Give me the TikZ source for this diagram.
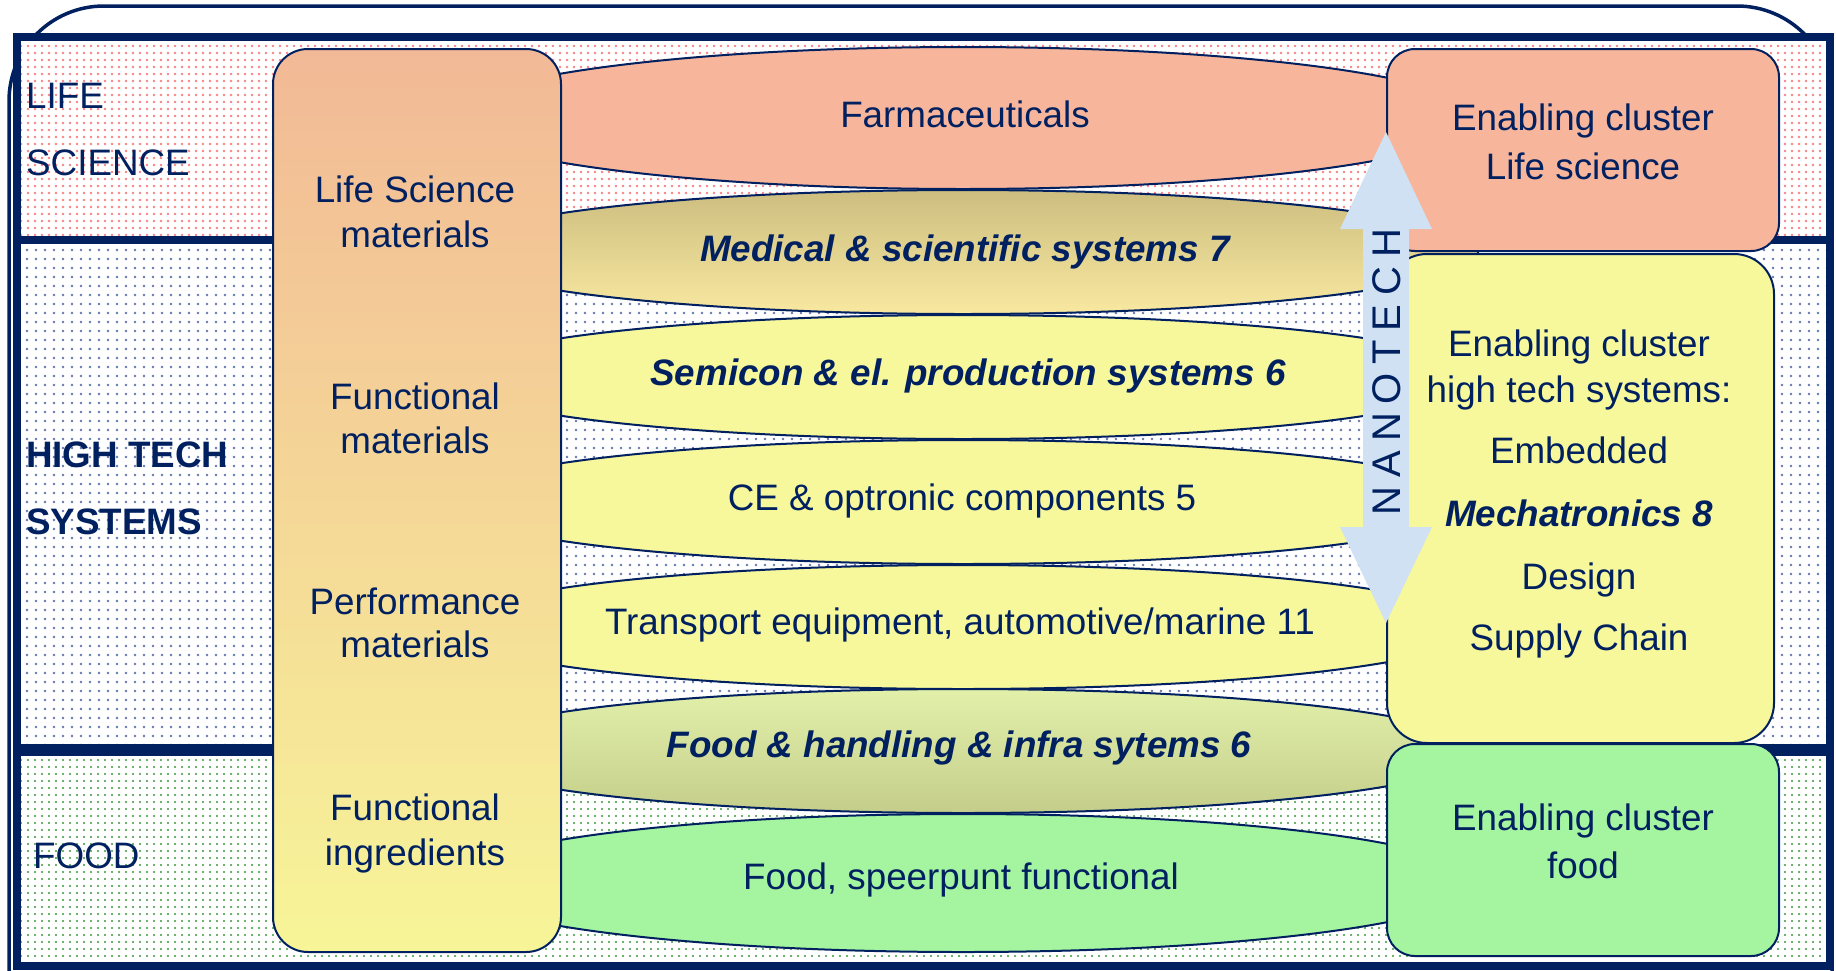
\documentclass[tikz,border=0pt]{standalone}
\usepackage{fontspec}
\setmainfont{Liberation Sans}
\usetikzlibrary{shapes.geometric,patterns.meta}
\definecolor{navy}{RGB}{0,32,96}
\definecolor{salmonf}{RGB}{247,181,155}
\definecolor{yellowf}{RGB}{247,247,155}
\definecolor{greenf}{RGB}{165,245,160}
\definecolor{matTop}{RGB}{242,185,150}
\definecolor{matBot}{RGB}{247,245,152}
\definecolor{medTop}{RGB}{205,190,128}
\definecolor{medBot}{RGB}{248,232,160}
\definecolor{fhTop}{RGB}{226,240,170}
\definecolor{fhBot}{RGB}{196,206,138}
\definecolor{arrowblue}{RGB}{208,225,243}
\definecolor{lsdot}{RGB}{248,130,130}
\definecolor{htdot}{RGB}{100,120,175}
\definecolor{fdot}{RGB}{60,150,60}
\begin{document}
\begin{tikzpicture}[x=1pt,y=-1pt,
  lbl/.style={inner sep=0pt,text height=26.5pt,text depth=0pt,text=navy,font=\fontsize{36.8}{44}\selectfont},
  bilbl/.style={lbl,font=\fontsize{36.8}{44}\selectfont\bfseries\itshape},
  blbl/.style={lbl,font=\fontsize{36.8}{44}\selectfont\bfseries},
  band/.style={ellipse,draw=navy,line width=2pt,minimum width=1030pt,minimum height=124pt,inner sep=0pt},
  box/.style={draw=navy,line width=2pt,rounded corners=28pt,inner sep=0pt,anchor=north west}]
\useasboundingbox (0,0) rectangle (1836,970);
\clip (0,0) rectangle (1836,970);
% outer rounded frame
\draw[navy,line width=3.5pt,rounded corners=95pt] (9,6) rectangle (1832,1100);
% regions
\fill[white] (17,37) rectangle (1830,966);
\fill[pattern={Dots[distance=7pt,radius=1.3pt]},pattern color=lsdot] (17,37) rectangle (1830,240);
\fill[pattern={Dots[distance=9pt,radius=1.3pt]},pattern color=htdot] (17,240) rectangle (1830,750);
\fill[pattern={Dots[distance=7pt,radius=1.2pt]},pattern color=fdot] (17,750) rectangle (1830,966);
\draw[navy,line width=8pt] (17,37) rectangle (1830,966);
\draw[navy,line width=8pt] (17,240) -- (1830,240);
\draw[navy,line width=12pt] (17,750) -- (1830,750);
% ellipses
\node[band,fill=salmonf,minimum height=142pt] (farm) at (963,118) {};
\node[band,top color=medTop,bottom color=medBot] (med) at (963,252) {};
\node[band,fill=yellowf] (semi) at (963,377) {};
\node[band,fill=yellowf] (ce) at (963,502) {};
\node[band,fill=yellowf] (trans) at (963,627) {};
\node[band,top color=fhTop,bottom color=fhBot] (fh) at (963,751) {};
\node[band,fill=greenf,minimum height=138pt] (food) at (963,883) {};
% left materials box
\node[box,rounded corners=35pt,top color=matTop,bottom color=matBot,minimum width=288pt,minimum height=903pt] (mat) at (272,48) {};
% right boxes
\node[box,fill=salmonf,minimum width=392pt,minimum height=202pt] (lsbox) at (1386,48) {};
\node[box,rounded corners=40pt,fill=yellowf,minimum width=387pt,minimum height=489pt] (htbox) at (1386,253) {};
\node[box,fill=greenf,minimum width=392pt,minimum height=212pt] (fbox) at (1386,743) {};
% nanotech arrow
\fill[arrowblue] (1386,132) -- (1432,229) -- (1409,229) -- (1409,527) -- (1432,527) -- (1386,623) -- (1340,527) -- (1363,527) -- (1363,229) -- (1340,229) -- cycle;
\node[inner sep=0pt,text height=28.6pt,text depth=0pt,text=navy,rotate=90,font=\fontsize{40}{48}\selectfont\addfontfeature{LetterSpace=22}] (nano) at (1386,372) {NANOTECH};
% region labels
\node[lbl,anchor=west] (l1) at (26,95) {LIFE};
\node[lbl,anchor=west] (l2) at (26,162) {SCIENCE};
\node[blbl,anchor=west] (h1) at (26,454) {HIGH TECH};
\node[blbl,anchor=west] (h2) at (26,521) {SYSTEMS};
\node[lbl,anchor=west] (f1) at (33,855) {FOOD};
% materials texts
\node[lbl] (m1) at (415,189) {Life Science};
\node[lbl] (m2) at (415,234) {materials};
\node[lbl] (m3) at (415,396) {Functional};
\node[lbl] (m4) at (415,440) {materials};
\node[lbl] (m5) at (415,601) {Performance};
\node[lbl] (m6) at (415,644) {materials};
\node[lbl] (m7) at (415,807) {Functional};
\node[lbl] (m8) at (415,852) {ingredients};
% ellipse texts
\node[lbl] (t1) at (965,114) {Farmaceuticals};
\node[bilbl] (t2) at (965,248) {Medical \& scientific systems 7};
\node[bilbl] (t3) at (968,372) {Semicon \& el. production systems 6};
\node[lbl] (t4) at (962,497) {CE \& optronic components 5};
\node[lbl] (t5) at (960,621) {Transport equipment, automotive/marine 11};
\node[bilbl] (t6) at (959,744) {Food \& handling \& infra sytems 6};
\node[lbl] (t7) at (961,876) {Food, speerpunt functional};
% right box texts
\node[lbl] (r1) at (1583,117) {Enabling cluster};
\node[lbl] (r2) at (1583,166) {Life science};
\node[lbl] (r3) at (1579,343) {Enabling cluster};
\node[lbl] (r4) at (1579,389) {high tech systems:};
\node[lbl] (r5) at (1579,450) {Embedded};
\node[bilbl] (r6) at (1579,513) {Mechatronics 8};
\node[lbl] (r7) at (1579,576) {Design};
\node[lbl] (r8) at (1579,637) {Supply Chain};
\node[lbl] (r9) at (1583,817) {Enabling cluster};
\node[lbl] (r10) at (1583,865) {food};
\end{tikzpicture}
\end{document}
